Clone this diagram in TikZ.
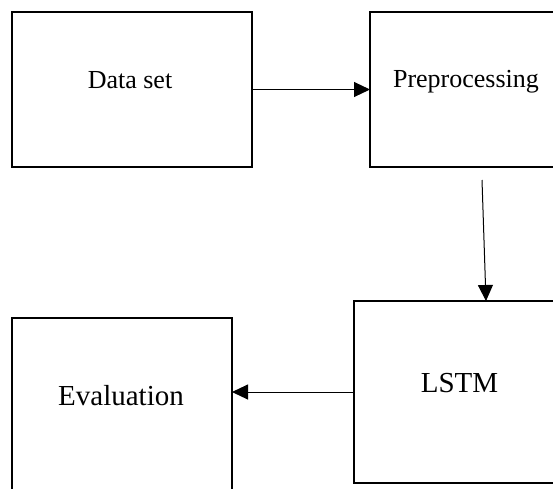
\documentclass[tikz,border=0pt]{standalone}
\usepackage{fontspec}
\setmainfont{Liberation Serif}
\usetikzlibrary{arrows.meta}
\begin{document}
\begin{tikzpicture}[x=1pt,y=-1pt,
  box/.style={draw, line width=2.3pt, anchor=north west, inner sep=0pt, outer sep=0pt},
  lbl/.style={anchor=base, inner sep=0pt},
  conn/.style={line width=1pt, -{Triangle[length=16pt,width=15pt]}},
  small/.style={font=\fontsize{26}{30}\selectfont},
  big/.style={font=\fontsize{29}{33}\selectfont}]
\useasboundingbox (0,0) rectangle (553,488);
\node[box, minimum width=240pt, minimum height=155pt] (ds) at (12,12) {};
\node[box, minimum width=186pt, minimum height=155pt] (pre) at (370,12) {};
\node[box, minimum width=202pt, minimum height=182pt] (lstm) at (354,301) {};
\node[box, minimum width=220pt, minimum height=174pt] (eval) at (12,318) {};
\node[lbl, small] (dst) at (130,88) {Data set};
\node[lbl, small] (pret) at (466,87) {Preprocessing};
\node[lbl, big] (lstmt) at (459.5,392) {LSTM};
\node[lbl, big] (evalt) at (121,405) {Evaluation};
\coordinate (vstart) at (482,180);
\draw[conn] (ds.east) -- (pre.west);
\draw[conn] (vstart) -- ([xshift=132pt]lstm.north west);
\draw[conn] (lstm.west) -- (lstm.west -| eval.east);
\end{tikzpicture}
\end{document}
